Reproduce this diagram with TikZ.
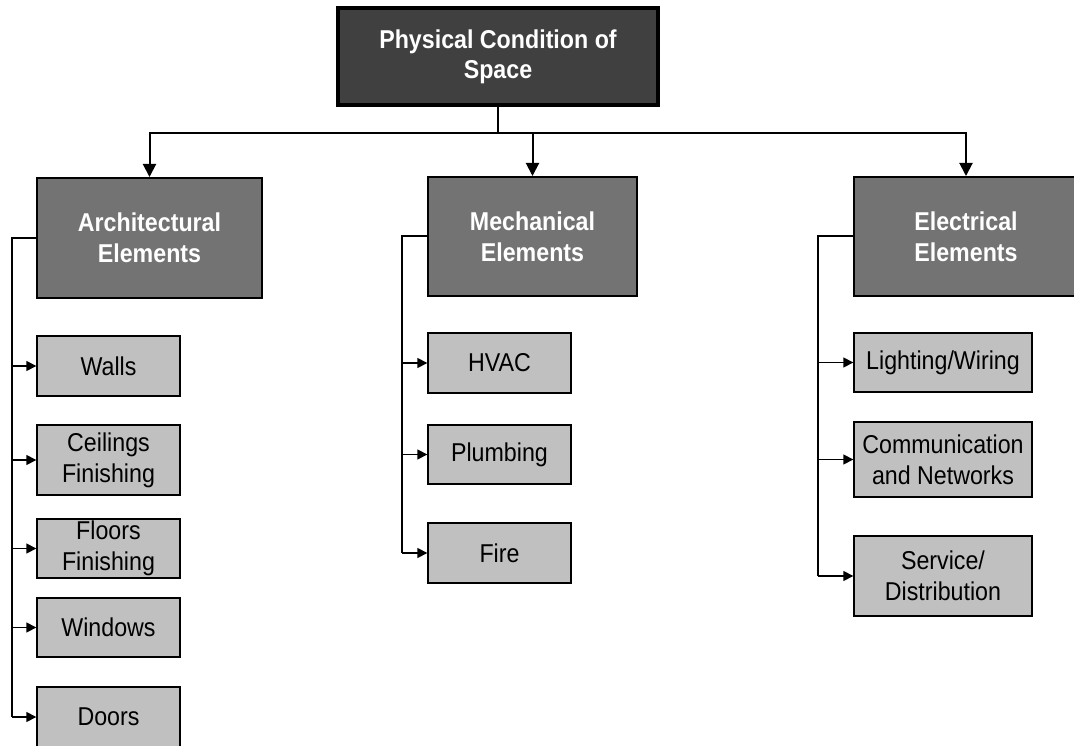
\documentclass[tikz,border=0pt]{standalone}
\usepackage{fontspec}
\setmainfont{Liberation Sans}[FakeStretch=0.9]
\usetikzlibrary{arrows.meta}
\definecolor{topfill}{HTML}{404040}
\definecolor{midfill}{HTML}{737373}
\definecolor{leaffill}{HTML}{C0C0C0}
\tikzset{
  base/.style={draw=black, rectangle, inner sep=0pt, align=center,
    font=\fontsize{25.8}{31}\selectfont},
  rootbox/.style={base, fill=topfill, line width=3.5pt, text=white,
    font=\fontsize{25.8}{30}\selectfont\bfseries},
  groupbox/.style={base, fill=midfill, line width=2pt, text=white,
    font=\fontsize{25.8}{31}\selectfont\bfseries},
  leafbox/.style={base, fill=leaffill, line width=1.4pt, text=black},
  trunk/.style={line width=2pt, draw=black},
  trunkarrow/.style={trunk, -{Triangle[length=13pt,width=13pt]}},
  branch/.style={line width=1.6pt, draw=black, -{Triangle[length=10pt,width=10pt]}},
}
\begin{document}
\begin{tikzpicture}[x=1pt, y=-1pt]
\useasboundingbox (0,0) rectangle (1074,746);
\clip (0,0) rectangle (1074,746);

% root and the three groups
\node[rootbox, minimum width=320pt, minimum height=97pt] (root) at (498,56.5)
  {Physical Condition of\\Space};
\node[groupbox, minimum width=225pt, minimum height=120pt] (arch) at (149.5,238)
  {Architectural\\Elements};
\node[groupbox, minimum width=209pt, minimum height=119pt] (mech) at (532.5,236.5)
  {Mechanical\\Elements};
\node[groupbox, minimum width=224pt, minimum height=119pt] (elec) at (966,236.5)
  {Electrical\\Elements};

% architectural items
\node[leafbox, minimum width=143pt, minimum height=60pt] (walls) at (108.5,366) {Walls};
\node[leafbox, minimum width=143pt, minimum height=70pt] (ceil) at (108.5,460) {Ceilings\\Finishing};
\node[leafbox, minimum width=143pt, minimum height=59pt] (floors) at (108.5,548.5) {Floors\\Finishing};
\node[leafbox, minimum width=143pt, minimum height=59pt] (windows) at (108.5,627.5) {Windows};
\node[leafbox, minimum width=143pt, minimum height=60pt] (doors) at (108.5,717) {Doors};

% mechanical items
\node[leafbox, minimum width=143pt, minimum height=60pt] (hvac) at (499.5,363) {HVAC};
\node[leafbox, minimum width=143pt, minimum height=59pt] (plumb) at (499.5,454.5) {Plumbing};
\node[leafbox, minimum width=143pt, minimum height=60pt] (fire) at (499.5,553) {Fire};

% electrical items
\node[leafbox, minimum width=178pt, minimum height=59pt] (light) at (943,362.5) {Lighting/Wiring};
\node[leafbox, minimum width=178pt, minimum height=75pt] (comm) at (943,459.5) {Communication\\and Networks};
\node[leafbox, minimum width=178pt, minimum height=80pt] (serv) at (943,576) {Service/\\Distribution};

% root to groups
\coordinate (bus) at (498,133);
\draw[trunk] (root.south) -- (bus);
\draw[trunkarrow] (bus) -| (arch.north);
\draw[trunkarrow] (bus) -| (mech.north);
\draw[trunkarrow] (bus) -| (elec.north);

% group brackets
\coordinate (archrail) at (12,238);
\coordinate (mechrail) at (402,236.5);
\coordinate (elecrail) at (818,236.5);
\draw[trunk] (arch.west) -- (archrail) -- (archrail |- doors.west);
\draw[trunk] (mech.west) -- (mechrail) -- (mechrail |- fire.west);
\draw[trunk] (elec.west) -- (elecrail) -- (elecrail |- serv.west);

\foreach \n in {walls,ceil,floors,windows,doors}
  \draw[branch] (archrail |- \n.west) -- (\n.west);
\foreach \n in {hvac,plumb,fire}
  \draw[branch] (mechrail |- \n.west) -- (\n.west);
\foreach \n in {light,comm,serv}
  \draw[branch] (elecrail |- \n.west) -- (\n.west);
\end{tikzpicture}
\end{document}
